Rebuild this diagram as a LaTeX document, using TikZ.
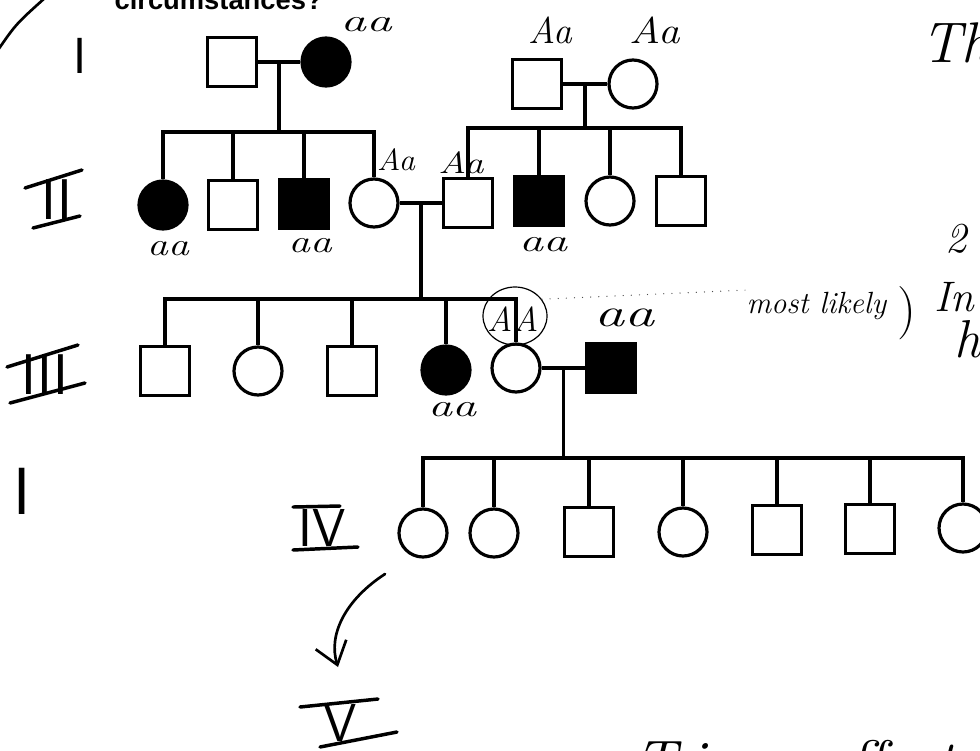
\documentclass[tikz,border=0pt]{standalone}
\usepackage{fontspec}
\usepackage{graphicx}
\newfontfamily\headfont{Liberation Sans}
\usetikzlibrary{arrows.meta,calc,shapes.geometric}
\newcommand{\hwx}[2]{\scalebox{#1}[1]{#2}}
\begin{document}
\begin{tikzpicture}[x=0.75pt,y=-0.75pt,
  line width=2.4pt,
  male/.style={draw,rectangle,minimum size=36.75pt,inner sep=0pt},
  female/.style={draw,circle,minimum size=36pt,inner sep=0pt},
  aff/.style={fill=black},
  hw/.style={font=\itshape\fontsize{#1}{#1}\selectfont,inner sep=0pt},
  num/.style={font=\sffamily\fontsize{#1}{#1}\selectfont,inner sep=0pt},
  bar/.style={line width=2.6pt,line cap=round},
  hand/.style={line width=2pt,line cap=round},
  dotline/.style={line width=0.9pt,line cap=round,dash pattern=on 0.1pt off 6pt,black!70},
]
\useasboundingbox (0,0) rectangle (980,750);
\clip (0,0) rectangle (980,750);
\fill[white] (0,0) rectangle (980,750);

% heading fragment
\node[font=\headfont\bfseries\fontsize{20.5}{20}\selectfont,anchor=base west,inner sep=0pt] (hdr) at (113,9) {circumstances?};
% stroke at top left
\coordinate (tlA) at (-2,50);
\coordinate (tlB) at (46,-3);
\draw[hand] (tlA) .. controls (16,24) .. (tlB);

% generation I
\node[male] (I1) at (232,62) {};
\node[female,aff] (I2) at (326,62) {};
\node[male] (I3) at (537,84) {};
\node[female] (I4) at (633,84) {};

% generation II
\node[female,aff] (II1) at (163,205) {};
\node[male] (II2) at (233,205) {};
\node[male,aff] (II3) at (304,204) {};
\node[female] (II4) at (374,203) {};
\node[male] (II5) at (468,203) {};
\node[male,aff] (II6) at (539,201) {};
\node[female] (II7) at (610,201) {};
\node[male] (II8) at (681,201) {};

% generation III
\node[male] (III1) at (165,371) {};
\node[female] (III2) at (258,371) {};
\node[male] (III3) at (352,371) {};
\node[female,aff] (III4) at (446,370) {};
\node[female] (III5) at (516,368) {};
\node[male,aff] (III6) at (611,368) {};

% generation IV
\node[female] (IV1) at (423,533) {};
\node[female] (IV2) at (494,533) {};
\node[male] (IV3) at (589,532) {};
\node[female] (IV4) at (683,532) {};
\node[male] (IV5) at (777,530) {};
\node[male] (IV6) at (870,529) {};
\node[female] (IV7) at (963,528) {};

% sibship levels
\coordinate (s1) at (0,132);
\coordinate (s2) at (0,128);
\coordinate (s3) at (0,299);
\coordinate (s4) at (0,458);

% marriages and descent
\draw (I1) -- (I2);
\coordinate (m1) at ($(I1)!0.5!(I2)$);
\draw (m1) -- (m1 |- s1);
\draw (II1.north) -- (II1 |- s1) -- (II4 |- s1) -- (II4.north);
\foreach \c in {II2,II3} \draw (\c |- s1) -- (\c.north);

\draw (I3) -- (I4);
\coordinate (m2) at ($(I3)!0.5!(I4)$);
\draw (m2) -- (m2 |- s2);
\draw (II5.north) -- (II5 |- s2) -- (II8 |- s2) -- (II8.north);
\foreach \c in {II6,II7} \draw (\c |- s2) -- (\c.north);

\draw (II4) -- (II5);
\coordinate (m3) at ($(II4)!0.5!(II5)$);
\draw (m3) -- (m3 |- s3);
\draw (III1.north) -- (III1 |- s3) -- (III5 |- s3) -- (III5.north);
\foreach \c in {III2,III3,III4} \draw (\c |- s3) -- (\c.north);

\draw (III5) -- (III6);
\coordinate (m4) at ($(III5)!0.5!(III6)$);
\draw (m4) -- (m4 |- s4);
\draw (IV1.north) -- (IV1 |- s4) -- (IV7 |- s4) -- (IV7.north);
\foreach \c in {IV2,IV3,IV4,IV5,IV6} \draw (\c |- s4) -- (\c.north);

% genotype labels
\node[hw=24] (gI2) at (366,25) {\hwx{1.6}{aa}};
\node[hw=28] (gI3) at (550,30) {Aa};
\node[hw=28] (gI4) at (655,30) {\hwx{1.15}{Aa}};
\node[hw=23] (gII4) at (396,160) {\hwx{1.05}{Aa}};
\node[hw=23] (gII5) at (461,163) {\hwx{1.25}{Aa}};
\node[hw=24] (gII1) at (168,249) {\hwx{1.3}{aa}};
\node[hw=24] (gII3) at (310,246) {\hwx{1.35}{aa}};
\node[hw=24] (gII6) at (543,245) {\hwx{1.5}{aa}};
\node[hw=24] (gIII4) at (452,410) {\hwx{1.5}{aa}};
\node[hw=30] (gIII6) at (624,318) {\hwx{1.5}{aa}};
\node[hw=26] (AAt) at (513,319) {AA};
\node[draw,ellipse,line width=0.9pt,minimum width=48pt,minimum height=43.5pt,inner sep=0pt] (AAell) at (515,316) {};

\node[hw=23,anchor=base west] (ml) at (745,313) {most likely};
\draw[dotline] (AAell.32) -- (ml.north west);
\node[font=\fontsize{40}{40}\selectfont,inner sep=0pt] (par) at (907,313) {)};

% right margin fragments
\node[hw=43,anchor=base west] (th) at (920,62) {Th};
\node[hw=32] (two) at (956,239) {2};
\node[hw=32,anchor=base west] (inn) at (933,311) {In};
\node[hw=40,anchor=base west] (hh) at (953,357) {h};
\node[hw=45,anchor=base west] (bt) at (633,782) {T\kern8pt i\kern20pt a\kern10pt a\kern10pt affecte};

% generation numerals
\node[num=38] (n1) at (80,56) {I};
\node[num=43] (n2) at (57,200) {II};
\draw[bar] ([shift={(-32,-12)}]n2.center) -- ([shift={(25,-30)}]n2.center);
\draw[bar] ([shift={(-24,28)}]n2.center) -- ([shift={(23,16)}]n2.center);
\node[num=43] (n3) at (45,375) {III};
\draw[bar] ([shift={(-38,-8)}]n3.center) -- ([shift={(33,-30)}]n3.center);
\draw[bar] ([shift={(-35,28)}]n3.center) -- ([shift={(40,8)}]n3.center);
\node[num=50] (n1b) at (22,491) {I};
\node[num=40] (n4) at (322,528) {IV};
\draw[bar] ([shift={(-29,-21)}]n4.center) -- ([shift={(18,-22)}]n4.center);
\draw[bar] ([shift={(-29,22)}]n4.center) -- ([shift={(36,19)}]n4.center);
\node[num=40] (n5) at (340,723) {V};
\draw[bar] ([shift={(-40,-16)}]n5.center) -- ([shift={(38,-24)}]n5.center);
\draw[bar] ([shift={(-20,24)}]n5.center) -- ([shift={(57,9)}]n5.center);

% curved arrow from IV to V
\coordinate (arS) at (385,574);
\coordinate (arE) at (338,667);
\draw[hand,-{Straight Barb[length=16pt,width=24pt,line width=2pt]}] (arS) .. controls (345,600) and (328,635) .. (arE);
\end{tikzpicture}
\end{document}
